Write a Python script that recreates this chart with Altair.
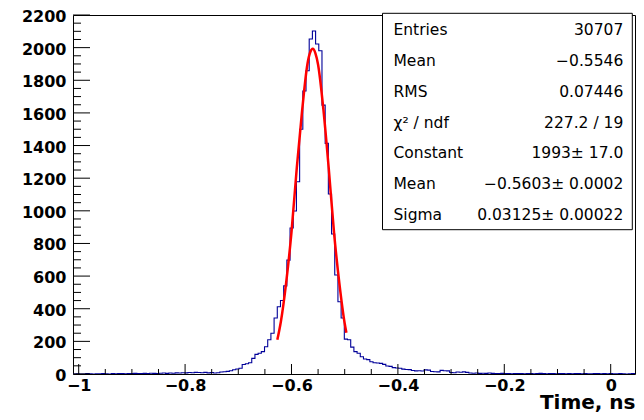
import altair as alt
import pandas as pd

# ---------------- data ----------------
bin_start = -1.0107
bin_width = 0.006
counts = [
    0, 1, 0, 0, 2, 1, 0, 1, 1, 2,
    1, 0, 2, 1, 3, 2, 1, 3, 2, 4,
    3, 2, 4, 3, 5, 4, 3, 5, 6, 4,
    6, 5, 7, 6, 8, 7, 9, 8, 10, 9,
    8, 10, 7, 9, 6, 8, 12, 14, 16, 20,
    26, 31, 35, 58, 63, 69, 96, 120, 127, 137,
    167, 210, 250, 343, 412, 450, 540, 698, 895, 999,
    1178, 1500, 1734, 1858, 2053, 2102, 2022, 1981, 1648, 1413,
    1103, 858, 607, 443, 343, 214, 210, 165, 137, 127,
    106, 92, 88, 75, 69, 67, 65, 59, 49, 47,
    39, 37, 35, 30, 28, 27, 21, 19, 20, 18,
    25, 24, 15, 14, 13, 22, 20, 19, 9, 8,
    12, 11, 13, 10, 6, 5, 6, 4, 5, 4,
    6, 4, 3, 2, 4, 2, 3, 1, 2, 3,
    2, 1, 3, 2, 1, 2, 4, 2, 1, 3,
    2, 1, 2, 3, 1, 2, 1, 3, 2, 1,
    2, 1, 1, 3, 2, 1, 2, 1, 2, 1,
    1, 2, 1, 0, 1, 2, 1,
]

fit_x = [-0.6266, -0.62, -0.61, -0.60, -0.59, -0.58, -0.57, -0.565, -0.56,
         -0.555, -0.55, -0.54, -0.53, -0.52, -0.51, -0.50, -0.4968]
fit_y = [210, 320, 560, 870, 1265, 1615, 1900, 1970, 1993,
         1965, 1895, 1620, 1260, 865, 555, 310, 253]

x_ticks_major = [-1.0, -0.8, -0.6, -0.4, -0.2, 0.0]
x_ticks_minor = [round(-1 + 0.05 * i, 2) for i in range(0, 21) if i % 4 != 0]
y_ticks_major = list(range(0, 2201, 200))
y_ticks_minor = [v for v in range(0, 2201, 50) if v % 200 != 0]

stat_names = ["Entries", "Mean", "RMS", "χ² / ndf", "Constant", "Mean", "Sigma"]
stat_values = ["30707", "−0.5546", "0.07446", "227.2 / 19", "1993± 17.0",
               "−0.5603± 0.0002", "0.03125± 0.00022"]

# ---------------- layout ----------------
W, H = 562, 359
px_per_unit = 532.0
x_min = bin_start
x_max = bin_start + W / px_per_unit

FONT = "DejaVu Sans"

edges = [bin_start + bin_width * k for k in range(len(counts) + 1)]
hist_df = pd.DataFrame({"x": edges, "y": counts + [counts[-1]]})
fit_df = pd.DataFrame({"x": fit_x, "y": fit_y})

xscale = alt.Scale(domain=[x_min, x_max], nice=False, zero=False)
yscale = alt.Scale(domain=[0, 2200], nice=False, zero=False)

xaxis = alt.Axis(
    values=x_ticks_major, ticks=False, domain=False, grid=False,
    format="~g", labelFont=FONT, labelFontWeight="bold", labelFontSize=16,
    labelColor="black", labelPadding=3, labelFlush=False, labelOverlap=False,
    title="Time, ns", titleFont=FONT, titleFontWeight="bold", titleFontSize=20,
    titleColor="black", titleAnchor="end", titleAlign="right",
    titleBaseline="alphabetic", titleX=W, titleY=34,
)
yaxis = alt.Axis(
    values=y_ticks_major, ticks=False, domain=False, grid=False,
    format="d", labelFont=FONT, labelFontWeight="bold", labelFontSize=16,
    labelColor="black", labelPadding=7, labelFlush=False, labelOverlap=False,
    labelOffset=1.5, title=None,
)

hist = alt.Chart(hist_df).mark_line(
    interpolate="step-after", color="#000099", strokeWidth=1.1, clip=True
).encode(
    x=alt.X("x:Q", scale=xscale, axis=xaxis),
    y=alt.Y("y:Q", scale=yscale, axis=yaxis),
)

fit = alt.Chart(fit_df).mark_line(
    interpolate="monotone", color="#ff0000", strokeWidth=2.5, clip=True
).encode(
    x=alt.X("x:Q", scale=xscale, axis=xaxis),
    y=alt.Y("y:Q", scale=yscale, axis=yaxis),
)

def xticks(vals, length):
    return alt.Chart(pd.DataFrame({"x": vals})).mark_rule(
        color="black", strokeWidth=1
    ).encode(
        x=alt.X("x:Q", scale=xscale, axis=xaxis),
        y=alt.value(H), y2=alt.value(H - length),
    )

def yticks(vals, length):
    return alt.Chart(pd.DataFrame({"y": vals})).mark_rule(
        color="black", strokeWidth=1
    ).encode(
        y=alt.Y("y:Q", scale=yscale, axis=yaxis),
        x=alt.value(0), x2=alt.value(length),
    )

one = pd.DataFrame({"a": [0]})
box_left = 309.5
box_right = W - 2.7
box_top = -1.7
box_bottom = 214.7
box = alt.Chart(one).mark_rect(fill="white", stroke="black", strokeWidth=1).encode(
    x=alt.value(box_left), x2=alt.value(box_right),
    y=alt.value(box_top), y2=alt.value(box_bottom),
)

row_h = (box_bottom - box_top) / len(stat_names)
texts = []
for i, (nm, val) in enumerate(zip(stat_names, stat_values)):
    yy = box_top + row_h * (i + 0.5) + 1
    texts.append(alt.Chart(one).mark_text(
        align="left", baseline="middle", font=FONT, fontSize=15.5, color="black"
    ).encode(x=alt.value(box_left + 11), y=alt.value(yy), text=alt.value(nm)))
    texts.append(alt.Chart(one).mark_text(
        align="right", baseline="middle", font=FONT, fontSize=15.5, color="black"
    ).encode(x=alt.value(box_right - 9), y=alt.value(yy), text=alt.value(val)))

chart = alt.layer(
    hist, fit,
    xticks(x_ticks_major, 10), xticks(x_ticks_minor, 5),
    yticks(y_ticks_major, 17), yticks(y_ticks_minor, 8),
    box, *texts,
).properties(
    width=W, height=H,
    autosize=alt.AutoSizeParams(type="none"),
    padding={"left": 65, "top": 7, "right": 1, "bottom": 38},
    background="white",
).configure_view(stroke="black", strokeWidth=1)

chart.save("out.html", embed_options={"renderer": "svg", "actions": False})
